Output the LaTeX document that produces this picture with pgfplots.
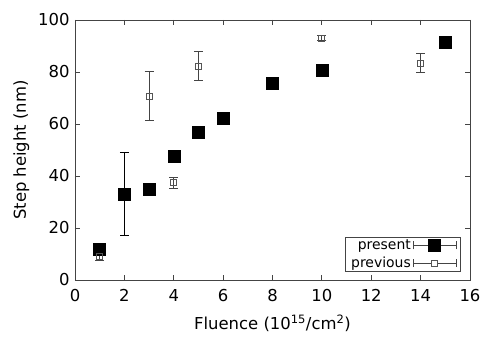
\documentclass[border=0pt]{standalone}
\usepackage{pgfplots}
\pgfplotsset{compat=1.18}
\usepackage{fontspec}
\setmainfont{DejaVu Sans}
\definecolor{axgray}{HTML}{444444}
\definecolor{prevgray}{HTML}{555555}
\newcommand{\fs}{\fontsize{16.5}{17}\selectfont}
\begin{document}
\begin{tikzpicture}
\begin{axis}[
  scale only axis,
  width=395bp, height=260bp,
  xmin=0, xmax=16, ymin=0, ymax=100,
  xtick={0,2,...,16}, ytick={0,20,...,100},
  tick align=inside,
  major tick length=5bp,
  axis line style={axgray, line width=0.9pt},
  every tick/.style={axgray, line width=0.9pt},
  tick label style={font=\fs},
  xticklabel style={yshift=-6bp},
  yticklabel style={xshift=-2bp},
  label style={font=\fs},
  /pgf/number format/assume math mode=true,
  xlabel={Fluence (10\textsuperscript{15}/cm\textsuperscript{2})},
  ylabel={Step height (nm)},
  xlabel style={yshift=-6bp},
  ylabel style={yshift=2bp},
  legend plot pos=right,
  legend cell align=right,
  legend style={at={(1,0)}, anchor=south east, xshift=-9bp, yshift=8bp,
    draw=axgray, line width=0.8pt, font=\fontsize{14}{14}\selectfont,
    inner ysep=0.5pt, inner xsep=4pt, row sep=2pt,
    nodes={inner sep=2pt}},
]
\addplot[only marks, mark=square*, mark size=6bp, black, forget plot,
  error bars/.cd, y dir=both, y explicit,
  error bar style={line width=0.8pt, black},
  error mark options={rotate=90, mark size=4.5bp, line width=0.8pt}]
  table[x=x, y=y, y error=e] {
x y e
1 12 0
2 33 16
3 35 0
4 47.5 2
5 56.7 0
6 62.4 0
8 75.8 0
10 80.8 0
15 91.5 0
};
\addplot[only marks, mark=square, mark size=3bp, prevgray, line width=0.8pt,
  forget plot,
  error bars/.cd, y dir=both, y explicit,
  error bar style={line width=0.8pt, axgray},
  error mark options={rotate=90, mark size=4.5bp, line width=0.8pt, axgray}]
  table[x=x, y=y, y error=e] {
x y e
1 9 1.5
3 70.8 9.3
4 37.4 2.1
5 82.3 5.6
10 93 1
14 83.4 3.7
};
\addlegendimage{legend image code/.code={
  \draw[axgray, line width=0.8pt] (0bp,0bp) -- (43bp,0bp);
  \draw[axgray, line width=0.8pt] (0bp,-4bp) -- (0bp,4bp);
  \draw[axgray, line width=0.8pt] (43bp,-4bp) -- (43bp,4bp);
  \fill[black] (15.5bp,-6bp) rectangle (27.5bp,6bp);
}}
\addlegendentry{present}
\addlegendimage{legend image code/.code={
  \draw[axgray, line width=0.8pt] (0bp,0bp) -- (18.5bp,0bp);
  \draw[axgray, line width=0.8pt] (24.5bp,0bp) -- (43bp,0bp);
  \draw[axgray, line width=0.8pt] (0bp,-4bp) -- (0bp,4bp);
  \draw[axgray, line width=0.8pt] (43bp,-4bp) -- (43bp,4bp);
  \draw[prevgray, line width=0.8pt] (18.5bp,-3bp) rectangle (24.5bp,3bp);
}}
\addlegendentry{previous}
\end{axis}
\pgfresetboundingbox
\path (current axis.south west) ++(-75bp,-63bp) coordinate (a);
\path (current axis.north east) ++(13bp,20bp) coordinate (b);
\path (a) rectangle (b);
\end{tikzpicture}
\end{document}
